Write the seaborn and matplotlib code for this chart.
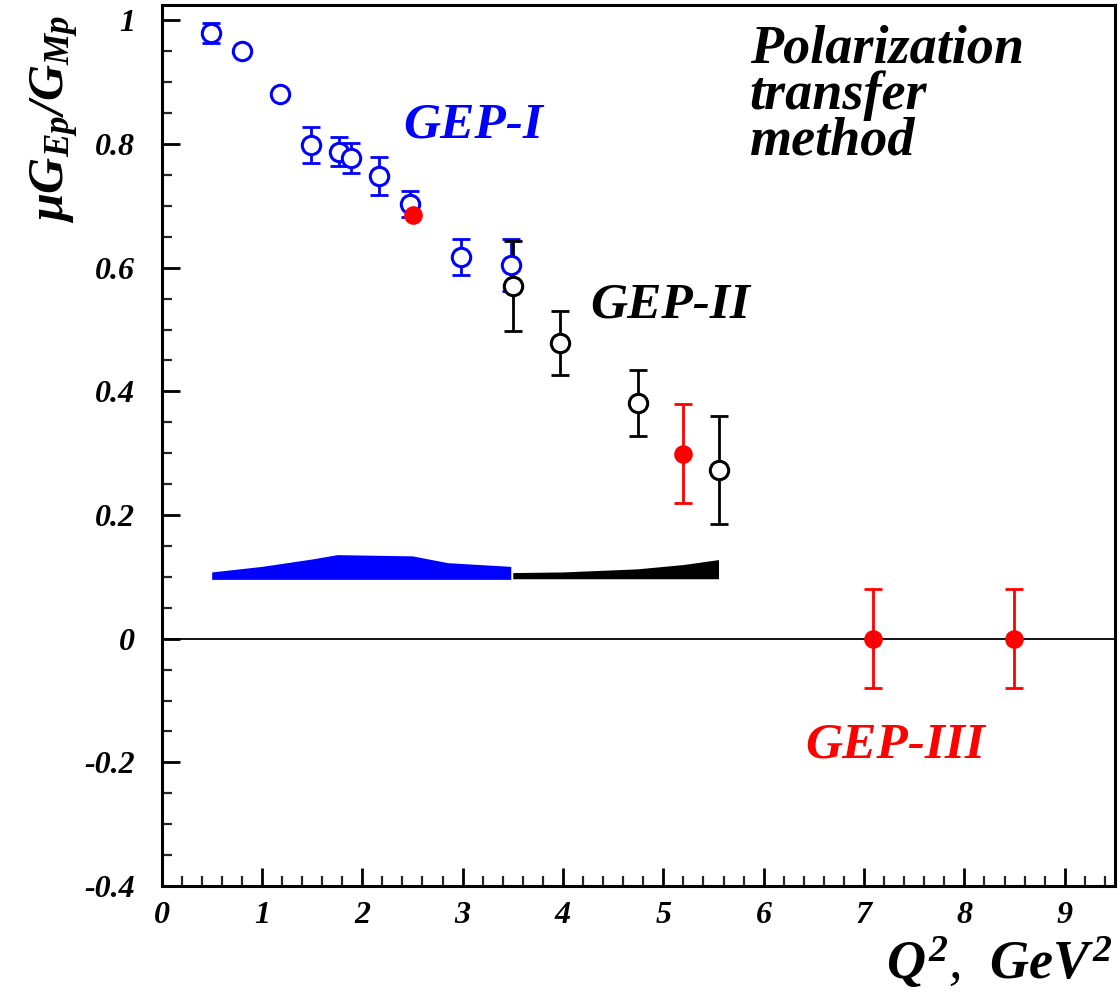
import numpy as np
import matplotlib
matplotlib.use("Agg")
import matplotlib.pyplot as plt
from matplotlib.ticker import MultipleLocator, FixedLocator
import seaborn as sns

# ---- data ----
gep1_q2 = [0.49, 0.80, 1.18, 1.49, 1.77, 1.89, 2.17, 2.48, 2.98, 3.48]
gep1_r = [0.980, 0.950, 0.881, 0.798, 0.788, 0.778, 0.748, 0.703, 0.617, 0.605]
gep1_err = [0.016, 0.004, 0.004, 0.029, 0.024, 0.024, 0.031, 0.021, 0.029, 0.042]

gep2_q2 = [3.50, 3.97, 4.75, 5.55]
gep2_r = [0.570, 0.478, 0.381, 0.273]
gep2_err = [0.073, 0.052, 0.053, 0.087]

gep3_q2 = [2.51, 5.20, 7.09, 8.49]
gep3_r = [0.686, 0.299, 0.0, 0.0]
gep3_err = [0.0, 0.080, 0.080, 0.080]

sys1_q2 = [0.50, 1.00, 1.50, 1.75, 2.50, 2.85, 3.48]
sys1_top = [0.108, 0.117, 0.129, 0.136, 0.134, 0.123, 0.117]
sys1_bot = [0.096, 0.096, 0.096, 0.096, 0.096, 0.096, 0.096]

sys2_q2 = [3.50, 4.00, 4.74, 5.20, 5.55]
sys2_top = [0.107, 0.108, 0.113, 0.120, 0.128]
sys2_bot = [0.097, 0.097, 0.097, 0.097, 0.097]

y_ticks = [-0.4, -0.2, 0.0, 0.2, 0.4, 0.6, 0.8, 1.0]
y_ticklabels = ["-0.4", "-0.2", "0", "0.2", "0.4", "0.6", "0.8", "1"]
x_ticks = [0, 1, 2, 3, 4, 5, 6, 7, 8, 9]
x_ticklabels = ["0", "1", "2", "3", "4", "5", "6", "7", "8", "9"]

BLUE = "#0000ff"
RED = "#ff0000"
BLACK = "#000000"

sns.set_theme(style="ticks")
plt.rcParams["font.family"] = ["Liberation Serif", "DejaVu Serif"]
plt.rcParams["font.weight"] = "bold"
plt.rcParams["font.style"] = "italic"
plt.rcParams["mathtext.fontset"] = "custom"
plt.rcParams["mathtext.rm"] = "Liberation Serif:bold"
plt.rcParams["mathtext.it"] = "Liberation Serif:bold:italic"
plt.rcParams["mathtext.bf"] = "Liberation Serif:bold"

fig = plt.figure(figsize=(11.2, 9.98), dpi=100)
ax = fig.add_axes([0.1442, 0.1122, 0.9955 - 0.1442, 0.995 - 0.1122])

# systematic bands
ax.fill_between(sys1_q2, sys1_bot, sys1_top, color=BLUE, lw=0, zorder=2)
ax.fill_between(sys2_q2, sys2_bot, sys2_top, color=BLACK, lw=0, zorder=2)

# zero line
ax.axhline(0, color=BLACK, lw=1.3, zorder=1)

ekw = dict(fmt="none", elinewidth=2.0, capsize=6.5, capthick=2.0)
ax.errorbar(gep1_q2, gep1_r, yerr=gep1_err, ecolor=BLUE, zorder=3, **ekw)
ax.errorbar(gep2_q2, gep2_r, yerr=gep2_err, ecolor=BLACK, zorder=3, **ekw)
ax.errorbar(gep3_q2[1:], gep3_r[1:], yerr=gep3_err[1:], ecolor=RED, zorder=3, **ekw)

sns.scatterplot(x=gep1_q2, y=gep1_r, ax=ax, marker="o", s=175, color="white",
                edgecolor=BLUE, linewidth=2.2, zorder=4)
sns.scatterplot(x=gep2_q2, y=gep2_r, ax=ax, marker="o", s=175, color="white",
                edgecolor=BLACK, linewidth=2.2, zorder=5)
sns.scatterplot(x=gep3_q2, y=gep3_r, ax=ax, marker="o", s=180, color=RED,
                edgecolor=RED, linewidth=0, zorder=6)

ax.set_xlim(0, 9.5)
ax.set_ylim(-0.4, 1.025)

ax.xaxis.set_major_locator(FixedLocator(x_ticks))
ax.set_xticklabels(x_ticklabels)
ax.xaxis.set_minor_locator(MultipleLocator(0.2))
ax.yaxis.set_major_locator(FixedLocator(y_ticks))
ax.set_yticklabels(y_ticklabels)
ax.yaxis.set_minor_locator(MultipleLocator(0.05))

ax.tick_params(axis="both", which="major", direction="in", length=13, width=2.0,
               labelsize=23, colors=BLACK, top=False, right=False)
ax.tick_params(axis="both", which="minor", direction="in", length=7, width=1.6,
               top=False, right=False)
ax.tick_params(axis="y", which="major", pad=19)
ax.tick_params(axis="x", which="major", pad=11)
for lab in ax.get_xticklabels() + ax.get_yticklabels():
    lab.set_fontweight("bold")
    lab.set_fontstyle("italic")

for sp in ax.spines.values():
    sp.set_linewidth(2.2)
    sp.set_color(BLACK)
    sp.set_visible(True)

ax.set_ylabel(r"$\mathrm{\mu G}_{Ep}\mathrm{/G}_{Mp}$", fontsize=36, loc="top",
              color=BLACK)
ax.yaxis.set_label_coords(-0.084, 0.989)
ax.set_xlabel(r"$Q^{2}$,  $GeV^{2}$", fontsize=39, loc="right", color=BLACK)
ax.xaxis.set_label_coords(0.997, -0.056)

tkw = dict(fontsize=37, fontweight="bold", fontstyle="italic", ha="left", va="center")
ax.text(2.41, 0.83, "GEP-I", color=BLUE, **tkw)
ax.text(4.27, 0.539, "GEP-II", color=BLACK, **tkw)
ax.text(6.41, -0.173, "GEP-III", color=RED, **tkw)
ax.text(5.86, 0.993, "Polarization\ntransfer\nmethod", color=BLACK, fontsize=39,
        fontweight="bold", fontstyle="italic", ha="left", va="top", linespacing=0.88)

fig.savefig("out.png", dpi=100, facecolor="white")
